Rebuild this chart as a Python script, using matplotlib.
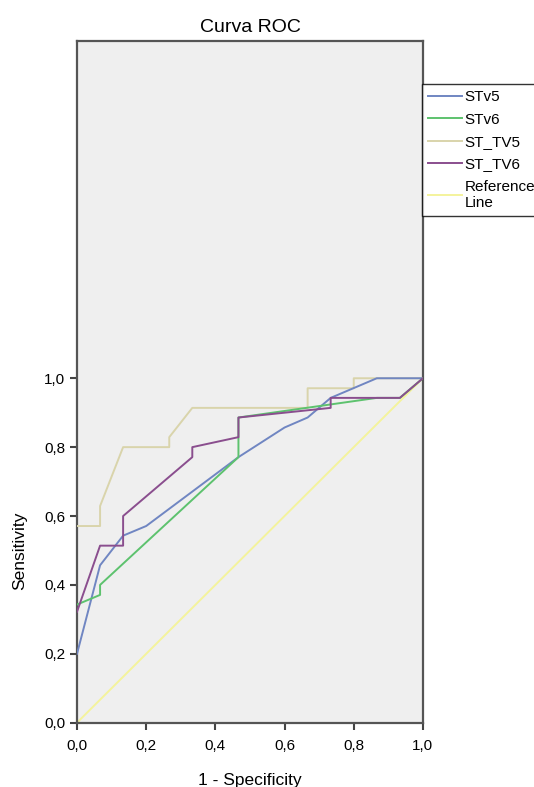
import matplotlib
matplotlib.use('Agg')
import matplotlib.pyplot as plt

plt.rcParams['font.family'] = ['Liberation Sans', 'DejaVu Sans']

# ROC curve points (1 - specificity, sensitivity)
stv5_x = [0.0, 0.0667, 0.1333, 0.2, 0.4667, 0.6, 0.6667, 0.7333, 0.8667, 1.0]
stv5_y = [0.2, 0.457, 0.543, 0.571, 0.771, 0.857, 0.886, 0.943, 1.0, 1.0]

stv6_x = [0.0, 0.0667, 0.0667, 0.4667, 0.4667, 0.8667, 0.9333, 1.0]
stv6_y = [0.343, 0.371, 0.4, 0.771, 0.886, 0.943, 0.943, 1.0]

sttv5_x = [0.0, 0.0667, 0.0667, 0.1333, 0.2667, 0.2667, 0.3333, 0.6667, 0.6667, 0.8, 0.8, 1.0]
sttv5_y = [0.571, 0.571, 0.629, 0.8, 0.8, 0.829, 0.914, 0.914, 0.971, 0.971, 1.0, 1.0]

sttv6_x = [0.0, 0.0667, 0.1333, 0.1333, 0.3333, 0.3333, 0.4667, 0.4667, 0.7333, 0.7333, 0.9333, 1.0]
sttv6_y = [0.322, 0.514, 0.514, 0.6, 0.771, 0.8, 0.829, 0.886, 0.914, 0.943, 0.943, 1.0]

ref_x = [0.0, 1.0]
ref_y = [0.0, 1.0]

ticks = [0.0, 0.2, 0.4, 0.6, 0.8, 1.0]
tick_labels = ['0,0', '0,2', '0,4', '0,6', '0,8', '1,0']

fig = plt.figure(figsize=(5.34, 7.87), dpi=100)
ax = fig.add_axes([0.1442, 0.0817, 0.6478, 0.8666])
ax.set_facecolor('#efefef')

lw = 1.4
ax.plot(ref_x, ref_y, color='#f4f39c', lw=lw, label='Reference\nLine', zorder=2)
ax.plot(sttv5_x, sttv5_y, color='#d9d4ab', lw=lw, label='ST_TV5', zorder=3)
ax.plot(stv5_x, stv5_y, color='#7086c2', lw=lw, label='STv5', zorder=4)
ax.plot(stv6_x, stv6_y, color='#5dc26e', lw=lw, label='STv6', zorder=4)
ax.plot(sttv6_x, sttv6_y, color='#8a4e8e', lw=lw, label='ST_TV6', zorder=5)

ax.set_xlim(0, 1)
ax.set_ylim(0, 1.98)
ax.set_xticks(ticks)
ax.set_xticklabels(tick_labels, fontsize=11)
ax.set_yticks(ticks)
ax.set_yticklabels(tick_labels, fontsize=11)
ax.tick_params(direction='out', length=5, width=1.5, color='#444444')
ax.tick_params(axis='x', pad=7)

for s in ax.spines.values():
    s.set_color('#555555')
    s.set_linewidth(1.6)

ax.set_title('Curva ROC', fontsize=14, pad=6)
ax.set_xlabel('1 - Specificity', fontsize=12.5, labelpad=14)
ax.set_ylabel('Sensitivity', fontsize=12.5)
ax.yaxis.set_label_coords(-0.145, 0.5 / 1.98)

handles, labels = ax.get_legend_handles_labels()
order = ['STv5', 'STv6', 'ST_TV5', 'ST_TV6', 'Reference\nLine']
hmap = dict(zip(labels, handles))
leg = fig.legend([hmap[k] for k in order], order, loc='upper left',
                 bbox_to_anchor=(422 / 534, 1 - 84 / 787), fontsize=11,
                 frameon=True, fancybox=False, edgecolor='black',
                 handlelength=2.2, handletextpad=0.2, labelspacing=0.55,
                 borderpad=0.4, borderaxespad=0)
leg.get_frame().set_linewidth(1.0)
leg.get_frame().set_facecolor('white')

fig.savefig('out.png', dpi=100)
